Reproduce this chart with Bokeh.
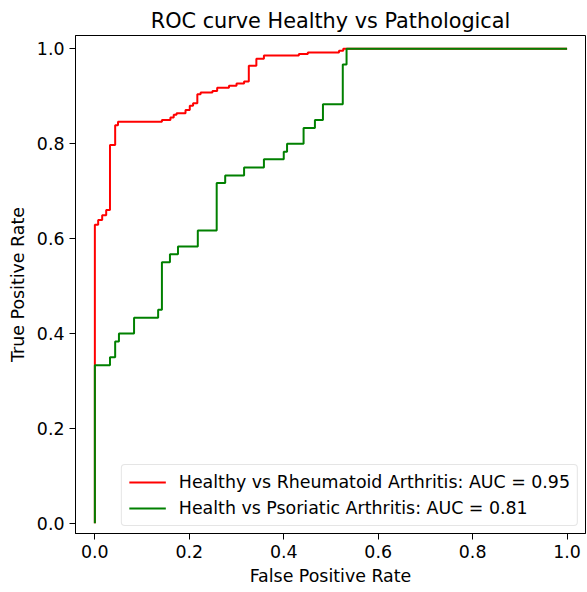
from bokeh.plotting import figure
from bokeh.models import FixedTicker, PrintfTickFormatter, Range1d, Legend, LegendItem
from bokeh.embed import file_html
from bokeh.resources import INLINE

# ROC corner points
ra_fpr = [0, 0, 0.007, 0.007, 0.0155, 0.0155, 0.024, 0.024, 0.032, 0.032, 0.043, 0.043,
          0.049, 0.049, 0.142, 0.142, 0.160, 0.160, 0.167, 0.167, 0.173, 0.173, 0.192, 0.192,
          0.201, 0.201, 0.208, 0.208, 0.217, 0.217, 0.224, 0.224, 0.249, 0.249, 0.259, 0.259,
          0.284, 0.284, 0.300, 0.300, 0.316, 0.316, 0.326, 0.326, 0.342, 0.342, 0.358, 0.358,
          0.432, 0.432, 0.451, 0.451, 0.517, 0.517, 0.526, 0.526, 1.0]
ra_tpr = [0, 0.629, 0.629, 0.639, 0.639, 0.649, 0.649, 0.660, 0.660, 0.797, 0.797, 0.839,
          0.839, 0.846, 0.846, 0.850, 0.850, 0.855, 0.855, 0.861, 0.861, 0.864, 0.864, 0.871,
          0.871, 0.880, 0.880, 0.885, 0.885, 0.904, 0.904, 0.908, 0.908, 0.911, 0.911, 0.918,
          0.918, 0.922, 0.922, 0.927, 0.927, 0.931, 0.931, 0.964, 0.964, 0.979, 0.979, 0.986,
          0.986, 0.989, 0.989, 0.992, 0.992, 0.996, 0.996, 1.0, 1.0]

psa_fpr = [0, 0, 0.032, 0.032, 0.043, 0.043, 0.051, 0.051, 0.083, 0.083, 0.134, 0.134,
           0.142, 0.142, 0.159, 0.159, 0.176, 0.176, 0.218, 0.218, 0.258, 0.258, 0.276, 0.276,
           0.316, 0.316, 0.358, 0.358, 0.400, 0.400, 0.407, 0.407, 0.442, 0.442, 0.466, 0.466,
           0.483, 0.483, 0.525, 0.525, 0.533, 0.533, 1.0]
psa_tpr = [0, 0.333, 0.333, 0.350, 0.350, 0.383, 0.383, 0.400, 0.400, 0.433, 0.433, 0.450,
           0.450, 0.550, 0.550, 0.567, 0.567, 0.583, 0.583, 0.617, 0.617, 0.717, 0.717, 0.733,
           0.733, 0.750, 0.750, 0.767, 0.767, 0.783, 0.783, 0.800, 0.800, 0.833, 0.833, 0.850,
           0.850, 0.883, 0.883, 0.967, 0.967, 1.0, 1.0]

labels = ["Healthy vs Rheumatoid Arthritis: AUC = 0.95",
          "Health vs Psoriatic Arthritis: AUC = 0.81"]
ticks = [0.0, 0.2, 0.4, 0.6, 0.8, 1.0]

FONT = "DejaVu Sans"
FS = "17.4px"

p = figure(width=587, height=590, output_backend="svg", toolbar_location=None,
           x_range=Range1d(-0.041, 1.039), y_range=Range1d(-0.0217, 1.028),
           min_border_left=75, min_border_right=2, min_border_top=35, min_border_bottom=57,
           title="ROC curve Healthy vs Pathological")

p.title.text_font = FONT
p.title.text_font_size = "20.8px"
p.title.text_font_style = "normal"
p.title.align = "center"
p.title.text_color = "black"
p.title.standoff = 6

r1 = p.line(ra_fpr, ra_tpr, line_color="red", line_width=2)
r2 = p.line(psa_fpr, psa_tpr, line_color="green", line_width=2)

p.xgrid.visible = False
p.ygrid.visible = False
p.outline_line_color = "black"
p.outline_line_width = 1

for ax in (p.xaxis[0], p.yaxis[0]):
    ax.ticker = FixedTicker(ticks=ticks)
    ax.formatter = PrintfTickFormatter(format="%.1f")
    ax.major_label_text_font = FONT
    ax.major_label_text_font_size = FS
    ax.major_label_text_color = "black"
    ax.axis_label_text_font = FONT
    ax.axis_label_text_font_size = FS
    ax.axis_label_text_font_style = "normal"
    ax.axis_label_text_color = "black"
    ax.major_tick_in = 0
    ax.major_tick_out = 6
    ax.minor_tick_line_color = None
    ax.axis_line_color = "black"
    ax.major_tick_line_color = "black"
    ax.major_label_standoff = 5

p.xaxis.axis_label = "False Positive Rate"
p.yaxis.axis_label = "True Positive Rate"
p.xaxis.axis_label_standoff = 5
p.yaxis.axis_label_standoff = 6

legend = Legend(items=[LegendItem(label=labels[0], renderers=[r1]),
                       LegendItem(label=labels[1], renderers=[r2])],
                location="bottom_right")
legend.label_text_font = FONT
legend.label_text_font_size = FS
legend.label_text_color = "black"
legend.glyph_width = 37
legend.glyph_height = 20
legend.label_height = 20
legend.label_standoff = 13
legend.spacing = 6
legend.padding = 7
legend.margin = 7
legend.border_line_color = "#cccccc"
legend.border_line_width = 1
legend.background_fill_alpha = 0.8
if "border_radius" in Legend.properties():
    legend.border_radius = 4
p.add_layout(legend)

open("out.html", "w").write(file_html(p, INLINE))
